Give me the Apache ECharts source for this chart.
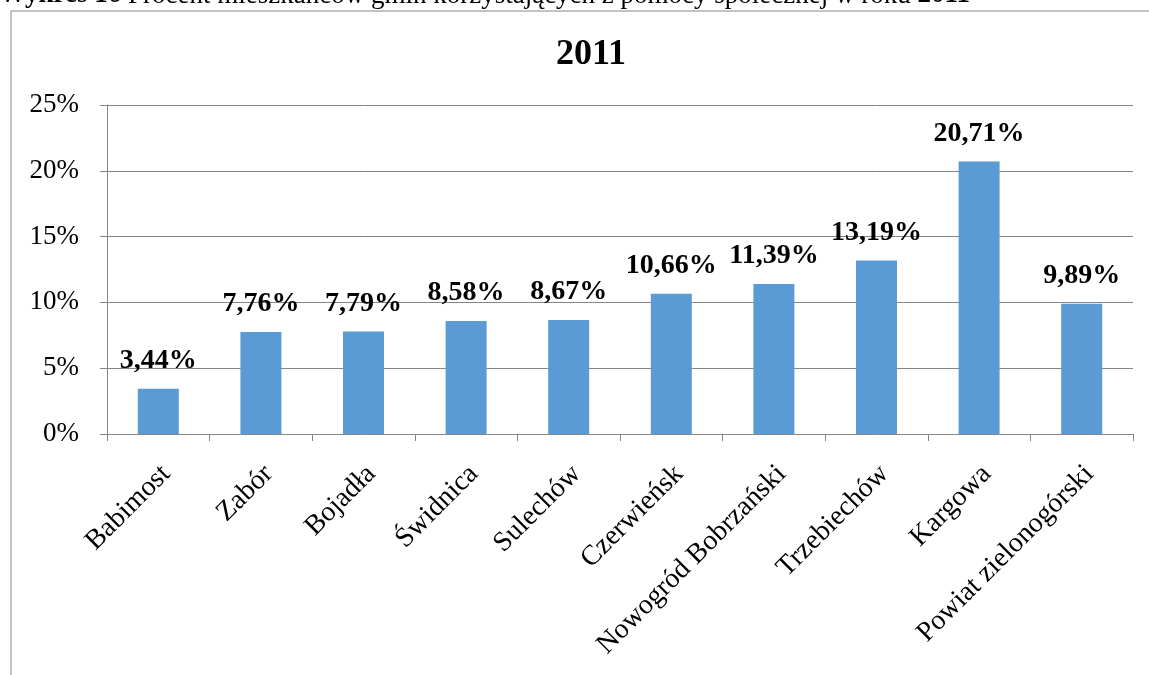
<!DOCTYPE html>
<html>
<head>
<meta charset="utf-8">
<script src="https://cdn.jsdelivr.net/npm/echarts@6/dist/echarts.min.js"></script>
<style>
  html, body { margin: 0; padding: 0; background: #fff; }
  #chart { width: 1149px; height: 675px; }
</style>
</head>
<body>
<div id="chart"></div>
<script>
// gminy
var categories = [
  "Babimost", "Zabór", "Bojadła", "Świdnica", "Sulechów",
  "Czerwieńsk", "Nowogród Bobrzański", "Trzebiechów", "Kargowa", "Powiat zielonogórski"
];
// procent mieszkańców korzystających z pomocy społecznej (2011)
var values = [3.44, 7.76, 7.79, 8.58, 8.67, 10.66, 11.39, 13.19, 20.71, 9.89];
var yTicks = [0, 5, 10, 15, 20, 25];

var serif = "'Liberation Serif', 'Times New Roman', serif";
var gray = "#868686";

var chart = echarts.init(document.getElementById("chart"));
chart.setOption({
  animation: false,
  title: {
    text: "2011",
    left: 586,
    textAlign: "center",
    top: 32,
    textStyle: { fontFamily: serif, fontSize: 36, fontWeight: "bold", color: "#000" }
  },
  graphic: [
    {
      // ramka wykresu
      type: "rect",
      shape: { x: 11, y: 11, width: 1200, height: 700 },
      style: { fill: null, stroke: gray, lineWidth: 1 }
    },
    {
      // podpis ucięty u góry
      type: "text",
      left: -1,
      top: -18,
      style: {
        text: "{b|Wykres 16} Procent mieszkańców gmin korzystających z pomocy społecznej w roku {b|2011}",
        font: "27px " + serif,
        fill: "#000",
        rich: {
          b: { fontFamily: serif, fontSize: 27, fontWeight: "bold" }
        }
      }
    }
  ],
  grid: { left: 107, right: 16, top: 105, bottom: 241 },
  xAxis: {
    type: "category",
    data: categories,
    axisLine: { lineStyle: { color: gray } },
    axisTick: { show: true, length: 7, lineStyle: { color: gray } },
    axisLabel: {
      interval: 0,
      rotate: 45,
      margin: 28,
      formatter: function (v) { return "{l|" + v + "}"; },
      rich: {
        // wyższa linia przesuwa obrócony napis lekko w prawo-dół
        l: { fontFamily: serif, fontSize: 28, color: "#000", padding: [22, 0, 0, 0] }
      }
    }
  },
  yAxis: {
    type: "value",
    min: yTicks[0],
    max: yTicks[yTicks.length - 1],
    interval: yTicks[1] - yTicks[0],
    axisLine: { show: true, lineStyle: { color: gray } },
    axisTick: { show: true, length: 7, lineStyle: { color: gray } },
    splitLine: { lineStyle: { color: gray } },
    axisLabel: {
      formatter: "{value}%",
      margin: 28,
      fontFamily: serif,
      fontSize: 27,
      color: "#000"
    }
  },
  series: [
    {
      type: "bar",
      data: values,
      barWidth: 41,
      itemStyle: { color: "#5B9BD5" },
      label: {
        show: true,
        position: "top",
        distance: 14,
        fontFamily: serif,
        fontSize: 28,
        fontWeight: "bold",
        color: "#000",
        formatter: function (p) {
          return p.value.toFixed(2).replace(".", ",") + "%";
        }
      }
    }
  ]
});
</script>
</body>
</html>
